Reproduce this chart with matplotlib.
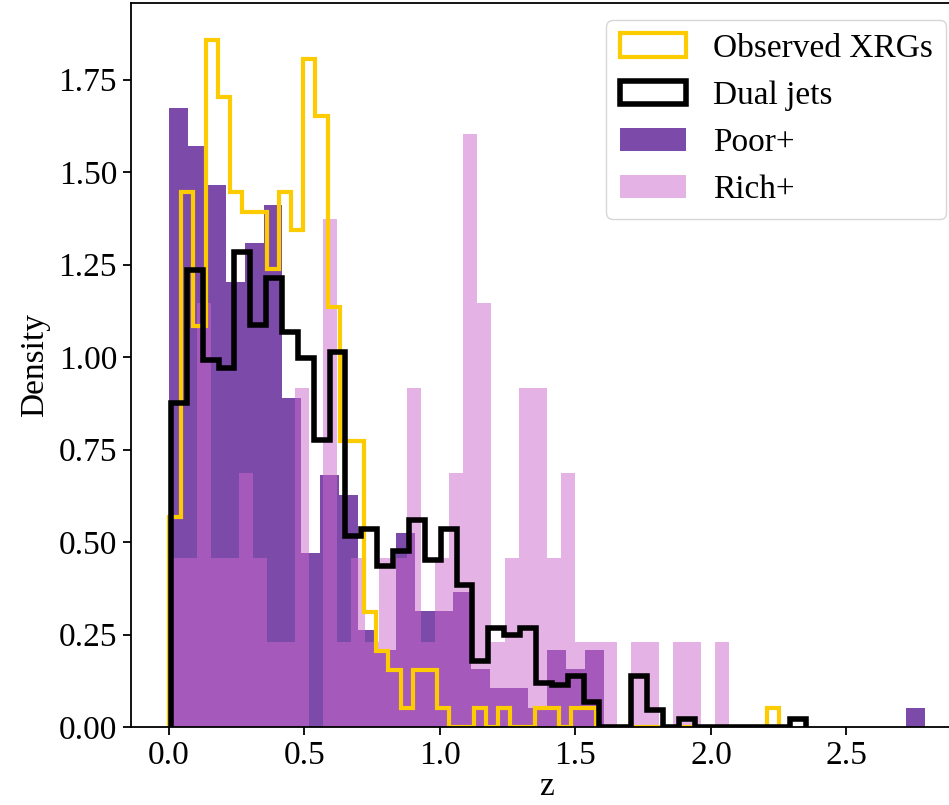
import numpy as np
import matplotlib
matplotlib.use("Agg")
import matplotlib.pyplot as plt

plt.rcParams['font.family'] = ['Liberation Serif', 'DejaVu Serif']
plt.rcParams['font.size'] = 24

# ---- data (densities) ----
# Observed XRGs: 50 bins over z in [0, 2.25]
xrg_range = (0.0, 2.25)
xrg_density = [0.568, 1.445, 1.084, 1.858, 1.703, 1.445, 1.393, 1.393, 1.238, 1.445,
               1.342, 1.806, 1.651, 1.135, 0.774, 0.774, 0.310, 0.206, 0.155, 0.052,
               0.155, 0.155, 0.052, 0.0, 0.0, 0.052, 0.0, 0.052, 0.0, 0.0,
               0.052, 0.052, 0.0, 0.052, 0.052, 0.0, 0.0, 0.0, 0.0, 0.0,
               0.0, 0.0, 0.0, 0.0, 0.0, 0.0, 0.0, 0.0, 0.0, 0.052]

# Dual jets: 40 bins over z in [0.007, 2.35]
dual_range = (0.007, 2.35)
dual_density = [0.875, 1.235, 0.992, 0.969, 1.285, 1.087, 1.213, 1.068, 0.996, 0.776,
                1.014, 0.515, 0.535, 0.435, 0.475, 0.560, 0.452, 0.535, 0.385, 0.178,
                0.268, 0.249, 0.268, 0.118, 0.113, 0.138, 0.068, 0.0, 0.0, 0.138,
                0.045, 0.0, 0.0225, 0.0, 0.0, 0.0, 0.0, 0.0, 0.0, 0.0225]

# Poor+: 40 bins over z in [0, 2.79]
poor_range = (0.0, 2.79)
poor_density = [1.674, 1.569, 1.464, 1.203, 1.308, 1.412, 0.889, 0.471, 0.680, 0.628,
                0.262, 0.209, 0.523, 0.314, 0.314, 0.366, 0.157, 0.105, 0.105, 0.052,
                0.209, 0.157, 0.209, 0.0, 0.0, 0.0, 0.0, 0.0, 0.0, 0.0,
                0.0, 0.0, 0.0, 0.0, 0.0, 0.0, 0.0, 0.0, 0.0, 0.052]

# Rich+: 40 bins over z in [0, 2.067]
rich_range = (0.0, 2.067)
rich_density = [0.458, 0.458, 1.145, 0.458, 0.458, 0.687, 0.458, 0.229, 0.229, 0.916,
                0.0, 1.374, 0.229, 0.458, 0.229, 0.458, 0.458, 0.916, 0.229, 0.458,
                0.687, 1.603, 1.145, 0.229, 0.458, 0.916, 0.916, 0.458, 0.687, 0.229,
                0.229, 0.229, 0.0, 0.229, 0.229, 0.0, 0.229, 0.229, 0.0, 0.229]

labels = ["Observed XRGs", "Dual jets", "Poor+", "Rich+"]


def edges_of(rng, vals):
    return np.linspace(rng[0], rng[1], len(vals) + 1)


def centers(e):
    return 0.5 * (e[:-1] + e[1:])


fig = plt.figure(figsize=(9.49, 8.05), dpi=100)
ax = fig.add_axes([131 / 949, 78 / 805, (963 - 131) / 949, (801.7 - 78) / 805])

e_poor = edges_of(poor_range, poor_density)
_, _, p_poor = ax.hist(centers(e_poor), bins=e_poor, weights=poor_density,
                       histtype='bar', color='#7C4BA9', label=labels[2], zorder=1)
e_rich = edges_of(rich_range, rich_density)
_, _, p_rich = ax.hist(centers(e_rich), bins=e_rich, weights=rich_density,
                       histtype='bar', color='#CD67CD', alpha=0.5, label=labels[3], zorder=1.1)
e_xrg = edges_of(xrg_range, xrg_density)
_, _, p_xrg = ax.hist(centers(e_xrg), bins=e_xrg, weights=xrg_density,
                      histtype='step', color='#FCCC00', linewidth=3,
                      label=labels[0], zorder=2)
e_dual = edges_of(dual_range, dual_density)
_, _, p_dual = ax.hist(centers(e_dual), bins=e_dual, weights=dual_density,
                       histtype='step', color='black', linewidth=4,
                       label=labels[1], zorder=3)

ax.set_xlim(-0.1402, 2.93)
ax.set_ylim(0, 1.956)
ax.set_xticks([0.0, 0.5, 1.0, 1.5, 2.0, 2.5])
ax.set_yticks([0.0, 0.25, 0.5, 0.75, 1.0, 1.25, 1.5, 1.75])
ax.set_xlabel("z", labelpad=0)
ax.set_ylabel("Density", labelpad=6)
ax.tick_params(length=6, width=1.3, pad=4)
for s in ax.spines.values():
    s.set_linewidth(1.3)

handles = [p_xrg[0], p_dual[0], p_poor[0], p_rich[0]]
ax.legend(handles, labels, loc='upper right')

fig.savefig("out.png", dpi=100)
